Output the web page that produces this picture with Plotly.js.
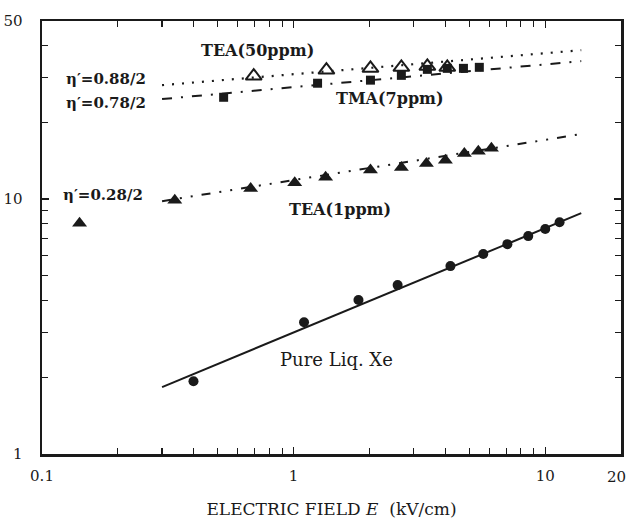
<!DOCTYPE html>
<html>
<head>
<meta charset="utf-8">
<script src="https://cdn.plot.ly/plotly-3.0.1.min.js"></script>
<style>html,body{margin:0;padding:0;background:#fff;}#chart{width:629px;height:521px;}</style>
</head>
<body>
<div id="chart"></div>
<script>
// Pure liquid Xe
const xeE = [0.40, 1.10, 1.81, 2.59, 4.20, 5.67, 7.07, 8.56, 10.0, 11.4];
const xeY = [1.93, 3.29, 4.02, 4.60, 5.46, 6.09, 6.66, 7.16, 7.63, 8.12];
const xeFitE = [0.30, 13.9];
const xeFitY = [1.83, 8.81];

// TEA (1 ppm)
const tea1E = [0.141, 0.337, 0.675, 1.01, 1.34, 2.02, 2.68, 3.37, 4.01, 4.77, 5.42, 6.11];
const tea1Y = [8.05, 9.91, 11.0, 11.6, 12.2, 13.0, 13.3, 13.8, 14.2, 15.1, 15.4, 15.85];
const tea1FitE = [0.30, 13.9];
const tea1FitY = [9.82, 18.0];

// TEA (50 ppm)
const tea50E = [0.694, 1.35, 2.02, 2.68, 3.40, 4.08];
const tea50Y = [30.4, 32.1, 32.6, 32.9, 33.2, 32.9];
const tea50FitE = [0.30, 13.9];
const tea50FitY = [28.0, 38.4];

// TMA (7 ppm)
const tmaE = [0.527, 1.245, 2.02, 2.68, 3.40, 4.08, 4.73, 5.47];
const tmaY = [25.1, 28.5, 29.3, 30.6, 32.3, 32.6, 32.6, 32.9];
const tmaFitE = [0.30, 13.9];
const tmaFitY = [24.7, 34.8];

const xTickVals = [0.1, 1, 10, 20];
const xTickText = ['0.1', '1', '10', '20'];
const xMinor = [0.2, 0.3, 0.4, 0.5, 0.6, 0.7, 0.8, 0.9, 2, 3, 4, 5, 6, 7, 8, 9];
const yTickVals = [1, 10, 50];
const yTickText = ['1', '10', '50'];
const yMinor = [2, 3, 4, 5, 6, 7, 8, 9, 20, 30, 40];

const ink = '#1a1a1a';
const dashDotDot = '9px,9px,2px,9px,2px,9px';
const dashDot = '10px,9px,2px,9px';
const dotted = '2px,8px';
const traces = [
  {x: xeFitE, y: xeFitY, mode: 'lines', line: {color: ink, width: 2}},
  {x: xeE, y: xeY, mode: 'markers', marker: {symbol: 'circle', size: 10, color: ink}},
  {x: tea1FitE, y: tea1FitY, mode: 'lines', line: {color: ink, width: 2, dash: dashDotDot}},
  {x: tea1E, y: tea1Y, mode: 'markers', marker: {symbol: 'triangle-up', size: 13, color: ink}},
  {x: tea50FitE, y: tea50FitY, mode: 'lines', line: {color: ink, width: 2.2, dash: dotted}},
  {x: tmaFitE, y: tmaFitY, mode: 'lines', line: {color: ink, width: 2, dash: dashDot}},
  {x: tmaE, y: tmaY, mode: 'markers', marker: {symbol: 'square', size: 9, color: ink}},
  {x: tea50E, y: tea50Y, mode: 'markers', marker: {symbol: 'triangle-up-open', size: 14, color: ink, line: {width: 2, color: ink}}}
];

const serif = 'DejaVu Serif, Liberation Serif, serif';
const ann = (text, x, y, bold, size) => ({
  text: bold ? '<b>' + text + '</b>' : text, xref: 'paper', yref: 'paper', x: x, y: y,
  showarrow: false, xanchor: 'center', yanchor: 'middle',
  font: {family: serif, size: size || 14, color: ink}
});

// the last x tick label sits at the page edge; draw it right-anchored so it stays whole
const lastIdx = xTickText.length - 1;
const xTickShown = xTickText.map((t, i) => i === lastIdx ? '' : t);
const edgeLabel = {
  text: xTickText[lastIdx], xref: 'paper', yref: 'paper', x: 1.0125, y: -0.053,
  showarrow: false, xanchor: 'right', yanchor: 'middle',
  font: {family: serif, size: 15, color: ink}
};

const layout = {
  width: 629, height: 521,
  margin: {l: 42, r: 8, t: 21, b: 67},
  paper_bgcolor: '#fff', plot_bgcolor: '#fff',
  showlegend: false,
  font: {family: serif, size: 14, color: ink},
  xaxis: {
    type: 'log', range: [-1, Math.log10(20)],
    tickmode: 'array', tickvals: xTickVals, ticktext: xTickShown,
    ticks: 'inside', ticklen: 7, tickwidth: 1.5, tickcolor: ink,
    minor: {tickmode: 'array', tickvals: xMinor, ticks: 'inside', ticklen: 6, tickwidth: 1.2, tickcolor: ink, showgrid: false},
    showline: true, linecolor: ink, linewidth: 2.5, mirror: 'ticks',
    showgrid: false, zeroline: false,
    ticklabelstandoff: 6, ticklabeloverflow: 'allow',
    tickfont: {family: serif, size: 15, color: ink},
    title: {text: 'ELECTRIC FIELD <i>E</i>  (kV/cm)', font: {family: serif, size: 17, color: ink}, standoff: 20}
  },
  yaxis: {
    type: 'log', range: [0, Math.log10(50)],
    tickmode: 'array', tickvals: yTickVals, ticktext: yTickText,
    ticks: 'inside', ticklen: 7, tickwidth: 1.5, tickcolor: ink,
    minor: {tickmode: 'array', tickvals: yMinor, ticks: 'inside', ticklen: 6, tickwidth: 1.2, tickcolor: ink, showgrid: false},
    showline: true, linecolor: ink, linewidth: 2.5, mirror: 'ticks',
    showgrid: false, zeroline: false,
    ticklabelstandoff: 14, ticklabeloverflow: 'allow',
    tickfont: {family: serif, size: 15, color: ink}
  },
  annotations: [
    ann('TEA(50ppm)', 0.372, 0.931, true, 16),
    ann('η′=0.88/2', 0.110, 0.866, true, 15),
    ann('η′=0.78/2', 0.110, 0.810, true, 15),
    ann('TMA(7ppm)', 0.601, 0.822, true, 16),
    ann('η′=0.28/2', 0.106, 0.598, true, 15),
    ann('TEA(1ppm)', 0.515, 0.564, true, 16),
    ann('Pure Liq. Xe', 0.508, 0.219, false, 18),
    edgeLabel
  ]
};

Plotly.newPlot('chart', traces, layout, {displayModeBar: false, staticPlot: true});
</script>
</body>
</html>
